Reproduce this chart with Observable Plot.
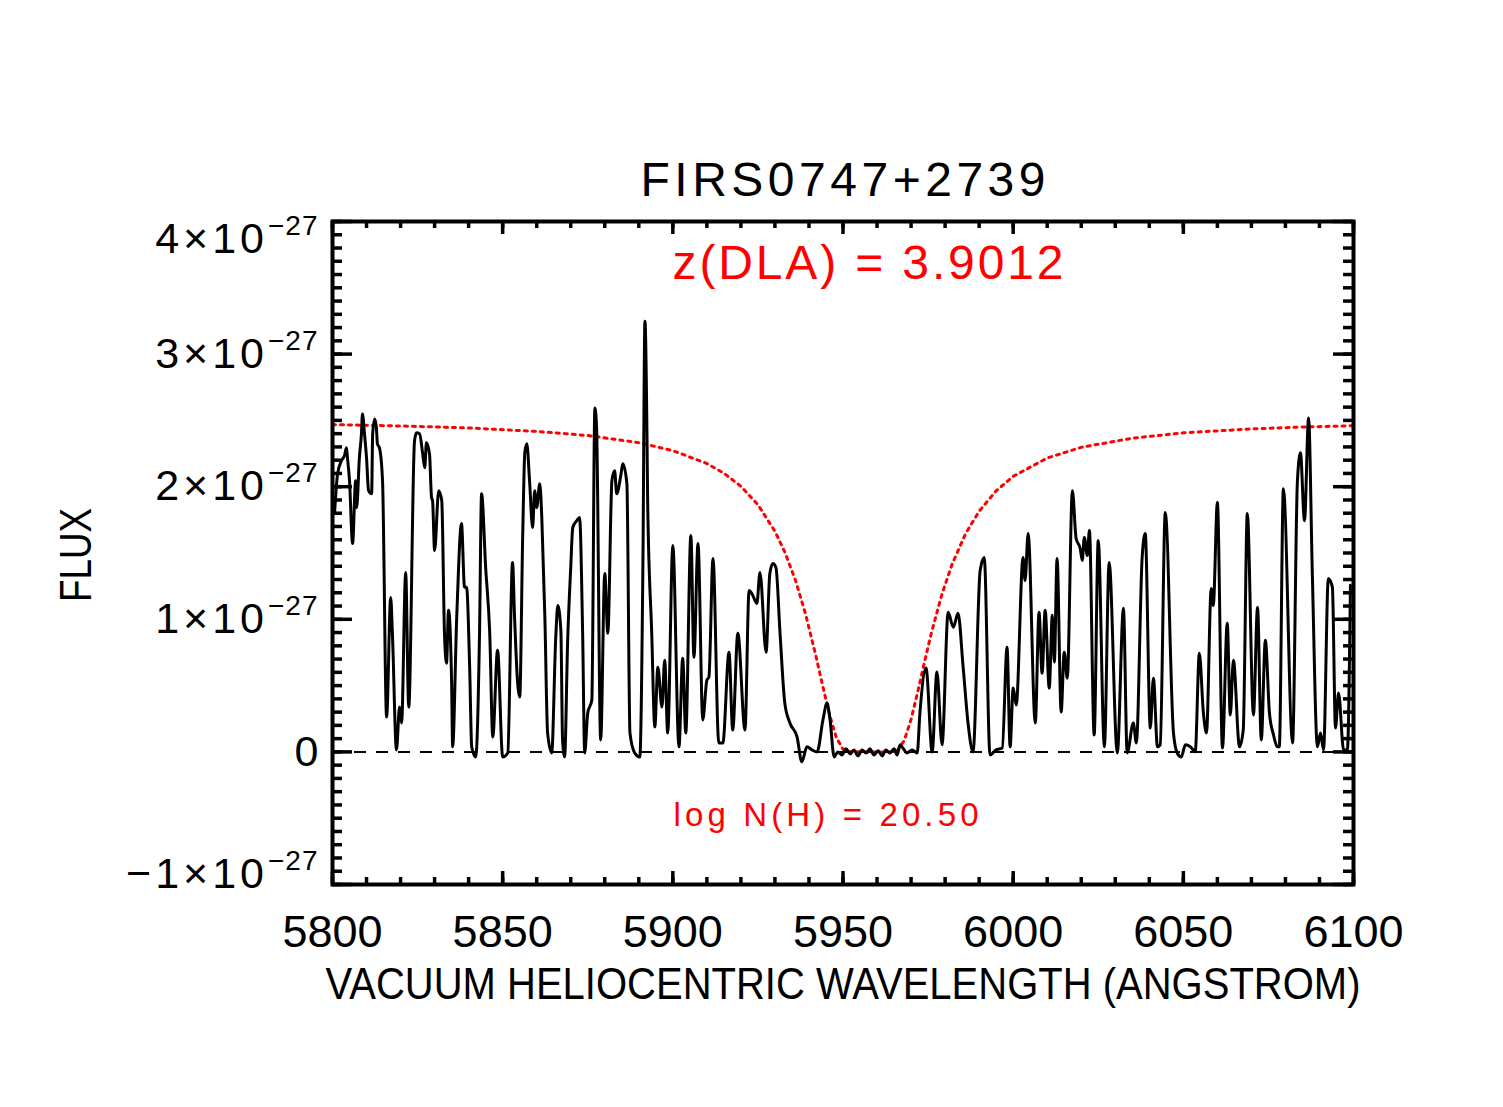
<!DOCTYPE html>
<html>
<head>
<meta charset="utf-8">
<script src="https://cdn.jsdelivr.net/npm/d3@7"></script>
<script src="https://cdn.jsdelivr.net/npm/@observablehq/plot@0.6"></script>
<style>
  html, body { margin: 0; padding: 0; background: #fff; }
  #chart svg { display: block; }
</style>
</head>
<body>
<div id="chart"></div>
<script>
// Observed spectrum (wavelength in Angstrom, flux in units of 1e-27)
const wavelength = [
5800.6,5801.5,5802.6,5803.5,5804.1,5804.4,5805.0,5805.9,5806.8,5807.1,5807.9,5808.5,5808.8,5809.4,5810.0,5810.6,5811.5,5811.8,5812.4,5812.9,
5813.2,5813.8,5814.7,5815.9,5817.1,5817.6,5818.8,5819.7,5820.3,5821.5,5822.4,5824.1,5824.7,5825.6,5826.5,5827.1,5827.6,5828.5,5829.1,5829.4,
5830.0,5831.2,5832.1,5832.9,5833.5,5834.1,5835.0,5835.3,5836.5,5837.9,5838.8,5839.4,5840.3,5840.9,5842.1,5843.2,5843.8,5845.0,5846.2,5847.1,
5848.5,5850.0,5851.5,5852.9,5853.5,5854.4,5855.0,5855.9,5856.5,5857.1,5857.9,5858.8,5859.4,5860.0,5860.9,5861.5,5862.4,5863.2,5864.4,5865.6,
5866.2,5867.1,5867.6,5868.2,5869.1,5870.0,5870.6,5871.8,5872.6,5873.5,5874.1,5875.0,5876.2,5877.1,5877.6,5878.8,5880.0,5880.9,5882.1,5882.9,
5883.5,5884.7,5885.3,5886.5,5887.4,5888.8,5890.3,5891.2,5891.8,5892.4,5892.6,5893.8,5894.7,5895.6,5896.8,5897.6,5898.5,5900.0,5901.8,5902.9,
5903.8,5905.3,5906.2,5907.4,5908.8,5910.0,5910.6,5911.8,5913.5,5914.7,5916.5,5917.6,5919.1,5921.2,5922.4,5923.5,5924.7,5925.6,5927.4,5928.5,
5929.4,5930.3,5931.5,5932.9,5934.4,5936.5,5937.9,5939.4,5940.9,5942.4,5944.1,5945.3,5946.2,5947.4,5948.5,5949.7,5950.9,5952.1,5953.2,5954.4,
5955.6,5956.8,5957.9,5959.1,5960.3,5961.5,5962.6,5963.8,5965.0,5965.9,5966.8,5967.6,5968.8,5970.3,5971.8,5972.6,5974.4,5976.2,5977.6,5979.1,
5980.9,5982.4,5983.8,5985.3,5986.8,5988.2,5990.3,5991.5,5993.2,5995.0,5996.8,5998.2,5999.1,6000.0,6000.9,6002.9,6003.5,6004.4,6006.5,6007.6,
6008.5,6009.4,6010.6,6011.5,6012.1,6012.9,6014.1,6015.0,6015.9,6017.4,6018.5,6019.7,6020.3,6020.9,6021.8,6022.4,6023.8,6025.0,6026.8,6028.2,
6030.6,6032.4,6033.5,6035.3,6036.2,6037.9,6038.8,6040.3,6041.2,6042.4,6043.2,6044.7,6047.1,6048.2,6049.4,6050.6,6052.1,6053.5,6054.7,6055.9,
6056.8,6058.2,6058.8,6060.0,6061.5,6062.9,6063.8,6064.7,6066.5,6067.6,6068.8,6070.6,6071.8,6072.9,6074.1,6075.3,6076.5,6077.6,6078.2,6079.4,
6082.1,6083.5,6084.4,6085.6,6086.8,6087.9,6089.4,6090.3,6091.2,6092.6,6093.8,6094.7,6095.6,6097.1,6098.2,6099.1
];
const flux = [
1.797,2.098,2.195,2.233,2.293,2.218,2.045,1.571,2.045,1.842,2.218,2.398,2.549,2.398,2.218,1.970,1.947,2.398,2.511,2.444,
2.323,2.293,2.045,0.263,1.165,0.895,0.015,0.338,0.218,1.353,0.338,2.346,2.406,2.398,2.248,2.143,2.331,2.248,1.917,1.895,
1.519,1.970,1.895,0.895,0.669,1.068,0.519,0.038,1.015,1.722,1.241,1.241,0.639,0.038,-0.038,0.895,1.947,1.391,0.895,0.113,
0.767,-0.038,-0.008,1.429,1.015,0.519,0.414,1.647,2.256,2.323,2.045,1.692,1.970,1.842,2.023,1.767,1.015,0.143,-0.008,0.865,
1.105,0.917,0.090,-0.038,0.842,1.391,1.692,1.744,1.767,0.895,-0.008,0.293,0.391,2.594,2.444,0.090,1.346,0.895,2.045,2.120,
1.947,2.083,2.173,2.023,0.143,-0.008,-0.038,1.391,3.248,2.398,1.895,0.895,0.188,0.639,0.338,0.692,0.143,1.556,0.038,0.707,
0.143,1.632,0.714,1.571,0.241,0.541,0.564,1.459,0.068,0.068,0.752,0.165,0.895,0.165,1.218,1.180,1.120,1.353,0.752,1.346,
1.421,1.391,0.895,0.368,0.218,0.113,-0.075,0.038,0.015,0.000,0.241,0.368,0.241,-0.038,0.000,-0.023,0.023,-0.015,0.015,-0.030,
0.015,-0.008,0.023,-0.023,0.008,-0.030,0.015,-0.008,0.023,-0.023,0.053,0.030,-0.008,0.015,-0.008,0.293,0.632,0.000,0.602,0.053,
1.053,0.940,1.045,0.639,0.203,0.000,1.368,1.466,-0.023,0.015,0.030,0.789,0.038,0.481,0.353,1.466,1.293,1.647,0.218,1.053,
0.594,1.068,0.481,1.030,0.677,1.459,0.301,0.752,0.556,1.970,1.609,1.534,1.444,1.617,1.481,1.669,0.128,1.594,0.038,1.429,
-0.008,1.083,-0.008,0.218,0.068,1.466,1.647,0.180,0.556,0.038,0.053,1.805,0.143,-0.008,-0.038,0.053,0.038,0.000,0.744,0.293,
0.143,1.233,1.105,1.880,0.030,0.970,0.278,0.692,0.038,0.165,1.797,0.278,1.090,0.090,0.842,0.293,0.128,0.038,0.038,1.985,
0.068,2.030,2.256,1.744,2.519,1.346,0.038,0.143,0.015,1.308,1.241,0.180,0.444,0.015,0.015,1.256
];

// Damped Lyman-alpha model profile
const modelWavelength = [5800,5820,5840,5860,5875,5890,5900,5910,5915,5920,5925,5930,5933,5936,5939,5942,5944,5946,5948,5950,
5952,5958,5964,5966,5968,5970,5972,5974,5976,5979,5982,5986,5990,5995,6000,6010,6020,6035,6050,6070,6085,6100];
const modelFlux = [2.468,2.458,2.443,2.417,2.386,2.332,2.272,2.175,2.102,2.003,1.864,1.664,1.501,1.297,1.039,0.728,0.502,0.284,0.111,0.020,
0.001,0.000,0.000,0.012,0.086,0.245,0.457,0.684,0.900,1.183,1.412,1.645,1.815,1.969,2.078,2.216,2.297,2.366,2.406,2.436,2.450,2.460];

// Tick values
const xMajor = [5800, 5850, 5900, 5950, 6000, 6050, 6100];
const xMinor = d3.range(5800, 6101, 10);
const yMajor = [-1, 0, 1, 2, 3, 4];
const yMinor = d3.range(-10, 41).map(i => i / 10);

const titleText = "FIRS0747+2739";
const xTitle = "VACUUM HELIOCENTRIC WAVELENGTH (ANGSTROM)";
const yTitle = "FLUX";
const zLabel = "z(DLA) = 3.9012";
const nLabel = "log N(H) = 20.50";

const spectrum = wavelength.map((w, i) => ({w, f: flux[i]}));
const model = modelWavelength.map((w, i) => ({w, f: modelFlux[i]}));

const W = 1503, H = 1107;
const mL = 332, mR = 150, mT = 221, mB = 223;
const plotW = W - mL - mR, plotH = H - mT - mB;
const font = "Liberation Sans, Arial, Helvetica, sans-serif";

const yFmt = d => d === 0 ? "0" : (d < 0 ? "\u2212" : "") + Math.abs(d) + "\u00d710^\u221227";

const chart = Plot.plot({
  width: W, height: H,
  marginLeft: mL, marginRight: mR, marginTop: mT, marginBottom: mB,
  style: {fontFamily: font, color: "black", background: "white"},
  x: {domain: [5800, 6100]},
  y: {domain: [-1, 4]},
  marks: [
    Plot.ruleY([0], {stroke: "black", strokeWidth: 2, strokeDasharray: "12,10"}),
    Plot.line(model, {x: "w", y: "f", stroke: "#ff0000", strokeWidth: 3, strokeDasharray: "3,5", clip: true}),
    Plot.line(spectrum, {x: "w", y: "f", stroke: "black", strokeWidth: 3, strokeLinejoin: "round", curve: "monotone-x", clip: true}),
    // ticks (inward, all four sides)
    Plot.ruleX(xMinor, {x: d => d, stroke: "black", strokeWidth: 3.5, insetTop: plotH - 7}),
    Plot.ruleX(xMinor, {x: d => d, stroke: "black", strokeWidth: 3.5, insetBottom: plotH - 7}),
    Plot.ruleX(xMajor, {x: d => d, stroke: "black", strokeWidth: 3.5, insetTop: plotH - 13}),
    Plot.ruleX(xMajor, {x: d => d, stroke: "black", strokeWidth: 3.5, insetBottom: plotH - 13}),
    Plot.ruleY(yMinor, {y: d => d, stroke: "black", strokeWidth: 3.5, insetRight: plotW - 10}),
    Plot.ruleY(yMinor, {y: d => d, stroke: "black", strokeWidth: 3.5, insetLeft: plotW - 10}),
    Plot.ruleY(yMajor, {y: d => d, stroke: "black", strokeWidth: 3.5, insetRight: plotW - 20}),
    Plot.ruleY(yMajor, {y: d => d, stroke: "black", strokeWidth: 3.5, insetLeft: plotW - 20}),
    Plot.frame({stroke: "black", strokeWidth: 4}),
    Plot.axisX({ticks: xMajor, tickSize: 0, tickPadding: 31, fontSize: 45, label: null, tickFormat: d => String(d)}),
    Plot.axisY({ticks: yMajor, tickSize: 0, tickPadding: 14, fontSize: 43, label: null, tickFormat: yFmt}),
    Plot.text([titleText], {frameAnchor: "top", dy: -41, fontSize: 48, lineAnchor: "middle", fill: "black"}),
    Plot.text([xTitle], {frameAnchor: "bottom", dy: 100, fontSize: 44, lineAnchor: "middle", fill: "black"}),
    Plot.text([yTitle], {frameAnchor: "left", dx: -256, rotate: -90, fontSize: 44, lineAnchor: "middle", fill: "black"}),
    Plot.text([zLabel], {frameAnchor: "top", dx: 25, dy: 42, fontSize: 48, lineAnchor: "middle", fill: "#ff0000"}),
    Plot.text([nLabel], {frameAnchor: "bottom", dx: -17, dy: -69, fontSize: 33, lineAnchor: "middle", fill: "#ff0000"})
  ]
});

document.getElementById("chart").appendChild(chart);

// Stretch labels to match the original vector font widths
const widths = new Map([
  [titleText, [405, "spacing"]],
  [xTitle, [1035, "spacingAndGlyphs"]],
  [zLabel, [391, "spacing"]],
  [nLabel, [305, "spacing"]]
]);
d3.select(chart).selectAll("text").each(function() {
  const t = this.textContent;
  if (widths.has(t)) {
    const [len, adj] = widths.get(t);
    this.setAttribute("textLength", len);
    this.setAttribute("lengthAdjust", adj);
  } else if (t === yTitle) {
    // rotated label: start at the lower end and run upward for its measured length
    this.setAttribute("text-anchor", "start");
    this.setAttribute("x", -49);
    this.setAttribute("textLength", 94);
    this.setAttribute("lengthAdjust", "spacingAndGlyphs");
  } else if (t.includes("^")) {
    const [base, exp] = t.split("^");
    const sel = d3.select(this);
    sel.text(base).style("letter-spacing", "4px");
    sel.append("tspan").attr("dy", -18).attr("font-size", 28).style("letter-spacing", "1px").text(exp);
    // the top and bottom labels sit inside the axis range, as in the original
    if (t.startsWith("4")) sel.attr("y", 31);
    else if (t.startsWith("\u2212")) sel.attr("y", 3);
  }
});
</script>
</body>
</html>
